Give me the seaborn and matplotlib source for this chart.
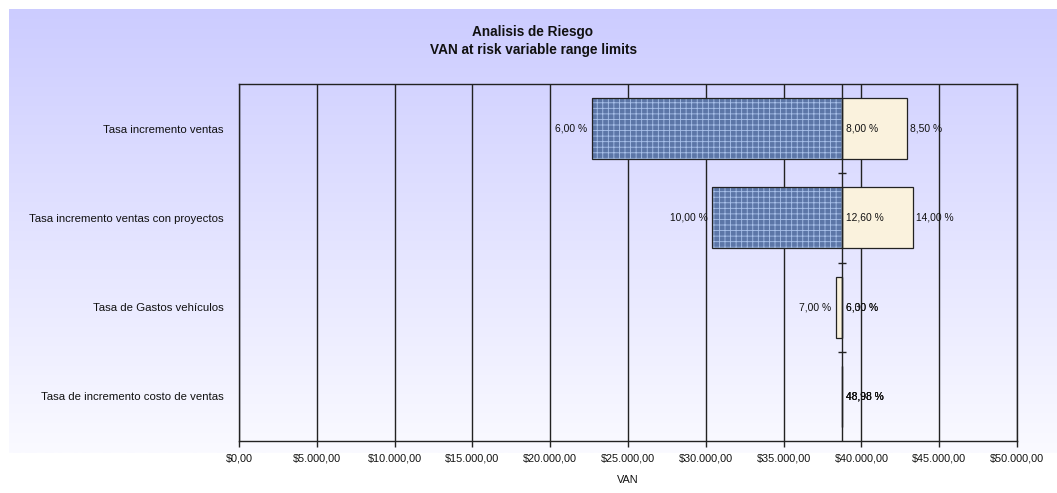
import numpy as np
import pandas as pd
import matplotlib
matplotlib.use("Agg")
import matplotlib.pyplot as plt
import seaborn as sns
from matplotlib.ticker import FixedLocator, FuncFormatter

# --- data -------------------------------------------------------------
factors = [
    "Tasa incremento ventas",
    "Tasa incremento ventas con proyectos",
    "Tasa de Gastos vehículos",
    "Tasa de incremento costo de ventas",
]
base_van = 38770.0
van_low_input = [22670.0, 30380.0, 38770.0, 38770.0]    # VAN at the lower input value
van_high_input = [42910.0, 43300.0, 38350.0, 38770.0]   # VAN at the upper input value
label_low_input = ["6,00 %", "10,00 %", "6,00 %", "48,98 %"]
label_high_input = ["8,50 %", "14,00 %", "7,00 %", "48,98 %"]
label_base = ["8,00 %", "12,60 %", "6,30 %", "48,98 %"]
xticks = list(range(0, 50001, 5000))

# --- style ------------------------------------------------------------
sns.set_theme(style="white")
plt.rcParams["font.family"] = ["Liberation Sans", "DejaVu Sans"]
plt.rcParams["hatch.linewidth"] = 0.6
ink = "#222222"
txt = "#111111"
blue = "#4F72B4"
blue_hatch = "#A9C1EA"
cream = "#FFF4D8"

W, H = 1057, 493
fig = plt.figure(figsize=(W / 100, H / 100), dpi=100)
fig.patch.set_facecolor("white")

# lavender-to-white backdrop
bg = fig.add_axes([9 / W, 1 - 453 / H, 1 - 9 / W, (453 - 9) / H], zorder=-5)
grad = np.linspace(0, 1, 256)[:, None]
top = np.array([204, 204, 255]) / 255
bot = np.array([250, 250, 255]) / 255
img = top[None, None, :] * (1 - grad[..., None]) + bot[None, None, :] * grad[..., None]
bg.imshow(img, aspect="auto", extent=[0, 1, 0, 1], origin="upper")
bg.set_axis_off()

ax = fig.add_axes([239 / W, 1 - 441 / H, (1017 - 239) / W, (441 - 84) / H])
ax.patch.set_alpha(0)

df = pd.DataFrame({
    "factor": factors * 2,
    "van": van_low_input + van_high_input,
    "side": ["low"] * len(factors) + ["high"] * len(factors),
})
sns.barplot(data=df, y="factor", x="van", hue="side", hue_order=["low", "high"],
            dodge=False, orient="h", palette={"low": blue, "high": cream},
            width=0.685, legend=False, ax=ax, zorder=3)

# each bar runs from the base VAN to its own value
for cont, vals in zip(ax.containers, [van_low_input, van_high_input]):
    for patch, v in zip(cont.patches, vals):
        patch.set_x(min(base_van, v))
        patch.set_width(abs(v - base_van))
        patch.set_edgecolor(ink)
        patch.set_linewidth(0.9)
for patch in ax.containers[0].patches:
    patch.set_hatch("+++")
    patch.set_edgecolor(blue_hatch)
    patch.set_linewidth(0)
    # outline drawn separately so the hatch keeps its light colour
    ax.add_patch(plt.Rectangle(patch.get_xy(), patch.get_width(), patch.get_height(),
                               fill=False, edgecolor=ink, linewidth=0.9, zorder=4))

# value labels
fs = 7.4
for i in range(len(factors)):
    for v, lab in [(van_low_input[i], label_low_input[i]), (van_high_input[i], label_high_input[i])]:
        if v < base_van:
            ax.annotate(lab, (v, i), xytext=(-3, 0), textcoords="offset points",
                        ha="right", va="center", fontsize=fs, color=txt, zorder=6)
        else:
            ax.annotate(lab, (v, i), xytext=(2.5, 0), textcoords="offset points",
                        ha="left", va="center", fontsize=fs, color=txt, zorder=6)
    ax.annotate(label_base[i], (base_van, i), xytext=(2.5, 0), textcoords="offset points",
                ha="left", va="center", fontsize=fs, color=txt, zorder=6)

# category axis crossing at the base VAN
ax.axvline(base_van, color=ink, lw=1.0, zorder=5)
ax.plot([base_van] * (len(factors) - 1), np.arange(len(factors) - 1) + 0.5,
        ls="none", marker="_", markersize=6, mew=1.0, color=ink, zorder=5)

ax.set_xlim(0, 50000)
ax.set_ylim(len(factors) - 0.5, -0.5)
ax.xaxis.set_major_locator(FixedLocator(xticks))


def money(v, _):
    s = f"{v:,.2f}".replace(",", "X").replace(".", ",").replace("X", ".")
    return "$" + s


ax.xaxis.set_major_formatter(FuncFormatter(money))
ax.grid(axis="x", color=ink, lw=1.0, zorder=1)
ax.grid(axis="y", visible=False)
ax.set_axisbelow(True)
for s in ax.spines.values():
    s.set_visible(True)
    s.set_color(ink)
    s.set_linewidth(1.0)

ax.tick_params(axis="x", direction="out", length=4, width=1.0, color=ink,
               labelsize=7.8, pad=5, bottom=True)
ax.tick_params(axis="y", length=0, labelsize=8.2, pad=11)
for t in ax.get_xticklabels() + ax.get_yticklabels():
    t.set_color(txt)
ax.set_ylabel("")
ax.set_xlabel("VAN", fontsize=7.8, labelpad=8, color=txt)

fig.text(533 / W, 1 - 41 / H, "Analisis de Riesgo\nVAN at risk variable range limits",
         ha="center", va="center", fontsize=9.8, fontweight="bold", linespacing=1.35,
         color=txt)

fig.savefig("out.png", dpi=100)
